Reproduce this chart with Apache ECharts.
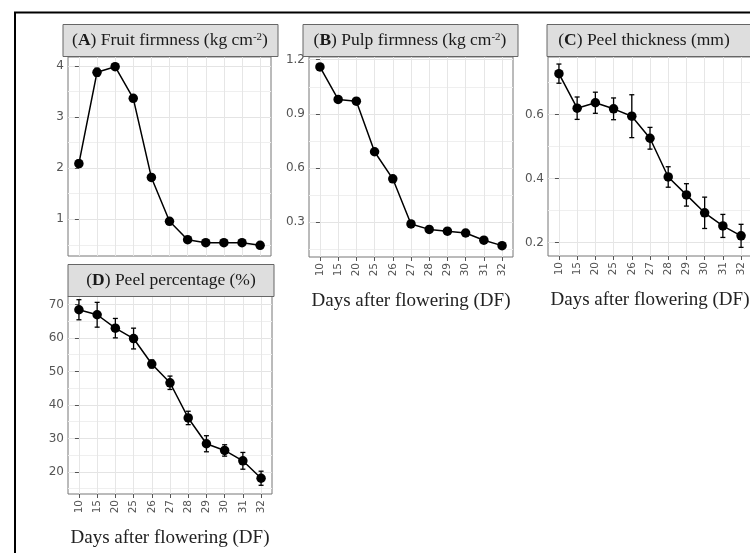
<!DOCTYPE html>
<html>
<head>
<meta charset="utf-8">
<script src="https://cdn.jsdelivr.net/npm/echarts@6/dist/echarts.min.js"></script>
<style>
  html, body { margin: 0; padding: 0; background: #fff; }
  #chart { width: 750px; height: 553px; }
</style>
</head>
<body>
<div id="chart"></div>
<script>
// days after flowering (x categories)
const days = ['10', '15', '20', '25', '26', '27', '28', '29', '30', '31', '32']

// (A) fruit firmness, kg cm-2
const fruitFirmness = [2.09, 3.88, 3.99, 3.37, 1.82, 0.96, 0.60, 0.54, 0.54, 0.54, 0.49]
const fruitFirmnessErr = [0.07, 0.08, 0.04, 0.05, 0.03, 0.03, 0.02, 0.02, 0.02, 0.02, 0.02]
// (B) pulp firmness, kg cm-2
const pulpFirmness = [1.16, 0.98, 0.97, 0.69, 0.54, 0.29, 0.26, 0.25, 0.24, 0.20, 0.17]
const pulpFirmnessErr = [0.01, 0.01, 0.01, 0.01, 0.01, 0.01, 0.01, 0.01, 0.01, 0.01, 0.01]
// (C) peel thickness, mm
const peelThickness = [0.728, 0.62, 0.637, 0.618, 0.595, 0.526, 0.405, 0.349, 0.293, 0.252, 0.221]
const peelThicknessErr = [0.03, 0.035, 0.033, 0.034, 0.067, 0.034, 0.032, 0.035, 0.049, 0.036, 0.036]
// (D) peel percentage, %
const peelPercentage = [68.4, 66.9, 62.9, 59.8, 52.2, 46.6, 36.1, 28.4, 26.4, 23.3, 18.1]
const peelPercentageErr = [3.0, 3.7, 2.9, 3.1, 1.2, 2.0, 2.0, 2.4, 1.7, 2.5, 2.1]

// tick labels
const ticksA = [1, 2, 3, 4]
const minorA = [0.5, 1.5, 2.5, 3.5]
const ticksB = [0.3, 0.6, 0.9, 1.2]
const minorB = [0.15, 0.45, 0.75, 1.05]
const ticksC = [0.2, 0.4, 0.6]
const minorC = [0.3, 0.5, 0.7]
const ticksD = [20, 30, 40, 50, 60, 70]
const minorD = [15, 25, 35, 45, 55, 65]

const xTitle = 'Days after flowering (DF)'

const panels = [
  { vals: fruitFirmness, err: fruitFirmnessErr, ticks: ticksA, minor: minorA, min: 0.28, max: 4.18,
    grid: { left: 68, top: 57, width: 203, height: 199 }, showX: false,
    strip: { x: 63, y: 24.5, w: 215, h: 32, cx: 170 },
    label: '({b|A}) Fruit firmness (kg cm{sup|-2})' },
  { vals: pulpFirmness, err: pulpFirmnessErr, ticks: ticksB, minor: minorB, min: 0.107, max: 1.215,
    grid: { left: 309, top: 57, width: 204, height: 200 }, showX: true,
    strip: { x: 303, y: 24.5, w: 215, h: 32, cx: 410 },
    label: '({b|B}) Pulp firmness (kg cm{sup|-2})' },
  { vals: peelThickness, err: peelThicknessErr, ticks: ticksC, minor: minorC, min: 0.158, max: 0.78,
    grid: { left: 548, top: 57, width: 204, height: 199 }, showX: true,
    strip: { x: 547, y: 24.5, w: 230, h: 32, cx: 644 },
    label: '({b|C}) Peel thickness (mm)' },
  { vals: peelPercentage, err: peelPercentageErr, ticks: ticksD, minor: minorD, min: 13.4, max: 72.5,
    grid: { left: 68, top: 296, width: 204, height: 198 }, showX: true,
    strip: { x: 68, y: 264.5, w: 206, h: 32, cx: 171 },
    label: '({b|D}) Peel percentage (%)' },
]

const idx = days.map((d, i) => i)
const tickColor = '#555'
const serif = 'Liberation Serif'

const chart = echarts.init(document.getElementById('chart'))

const grids = []
const xAxes = []
const yAxes = []
const series = []
const graphics = [
  {
    type: 'polyline',
    shape: { points: [[15, 553], [15, 12.5], [750, 12.5]] },
    style: { stroke: '#000', lineWidth: 2, fill: null },
    z: 100,
  },
]

const errorBar = (params, api) => {
  const x = api.value(0)
  const lo = api.coord([x, api.value(1)])
  const hi = api.coord([x, api.value(2)])
  const cap = 2.5
  const style = { stroke: '#000', lineWidth: 1.3 }
  return {
    type: 'group',
    children: [
      { type: 'line', shape: { x1: lo[0], y1: lo[1], x2: hi[0], y2: hi[1] }, style },
      { type: 'line', shape: { x1: lo[0] - cap, y1: lo[1], x2: lo[0] + cap, y2: lo[1] }, style },
      { type: 'line', shape: { x1: hi[0] - cap, y1: hi[1], x2: hi[0] + cap, y2: hi[1] }, style },
    ],
  }
}

panels.forEach((p, i) => {
  grids.push({
    ...p.grid,
    show: true,
    backgroundColor: '#fff',
    borderColor: '#777',
    borderWidth: 1,
    containLabel: false,
    outerBoundsMode: 'none',
  })

  xAxes.push({
    gridIndex: i,
    type: 'value',
    min: -0.6,
    max: 10.6,
    axisLine: { show: false },
    axisTick: { show: p.showX, length: 4, lineStyle: { color: tickColor }, customValues: idx },
    axisLabel: {
      show: p.showX,
      customValues: idx,
      rotate: 90,
      margin: 6,
      fontSize: 10.5,
      fontFamily: 'DejaVu Sans',
      color: tickColor,
      formatter: (v) => days[v],
    },
    splitLine: { show: true, lineStyle: { color: '#e6e6e6', width: 1 } },
    name: p.showX ? xTitle : '',
    nameLocation: 'middle',
    nameGap: 35,
    nameTextStyle: { fontFamily: serif, fontSize: 19, color: '#222' },
  })

  // major ticks + labels
  yAxes.push({
    gridIndex: i,
    type: 'value',
    position: 'left',
    min: p.min,
    max: p.max,
    axisLine: { show: false },
    axisTick: { show: true, length: 4, lineStyle: { color: tickColor }, customValues: p.ticks },
    axisLabel: { customValues: p.ticks, margin: 4, fontSize: 12, fontFamily: 'DejaVu Sans', color: tickColor },
    splitLine: { show: true, lineStyle: { color: '#e4e4e4', width: 1 } },
  })
  // minor grid lines only
  yAxes.push({
    gridIndex: i,
    type: 'value',
    position: 'left',
    min: p.min,
    max: p.max,
    axisLine: { show: false },
    axisTick: { show: false, customValues: p.minor },
    axisLabel: { show: false, customValues: p.minor },
    splitLine: { show: true, lineStyle: { color: '#efefef', width: 1 } },
  })

  series.push({
    type: 'custom',
    xAxisIndex: i,
    yAxisIndex: i * 2,
    data: p.vals.map((v, j) => [j, v - p.err[j], v + p.err[j]]),
    encode: { x: 0, y: [1, 2] },
    renderItem: errorBar,
    z: 2,
    silent: true,
  })
  series.push({
    type: 'line',
    xAxisIndex: i,
    yAxisIndex: i * 2,
    data: p.vals.map((v, j) => [j, v]),
    symbol: 'circle',
    symbolSize: 9.5,
    itemStyle: { color: '#000' },
    lineStyle: { color: '#000', width: 1.5 },
    z: 3,
    silent: true,
  })

  const s = p.strip
  graphics.push({
    type: 'rect',
    shape: { x: s.x, y: s.y, width: s.w, height: s.h },
    style: { fill: '#dedede', stroke: '#666', lineWidth: 1 },
    z: 50,
  })
  graphics.push({
    type: 'text',
    x: s.cx,
    y: s.y + s.h / 2,
    style: {
      text: p.label,
      align: 'center',
      verticalAlign: 'middle',
      fontFamily: serif,
      fontSize: 17.5,
      fill: '#1a1a1a',
      rich: {
        b: { fontFamily: serif, fontSize: 17.5, fontWeight: 'bold', fill: '#1a1a1a' },
        sup: { fontFamily: serif, fontSize: 11, fill: '#1a1a1a', verticalAlign: 'top', lineHeight: 12 },
      },
    },
    z: 51,
  })
})

chart.setOption({
  animation: false,
  backgroundColor: '#fff',
  grid: grids,
  xAxis: xAxes,
  yAxis: yAxes,
  series: series,
  graphic: graphics,
})

window.addEventListener('resize', () => chart.resize())
</script>
</body>
</html>
